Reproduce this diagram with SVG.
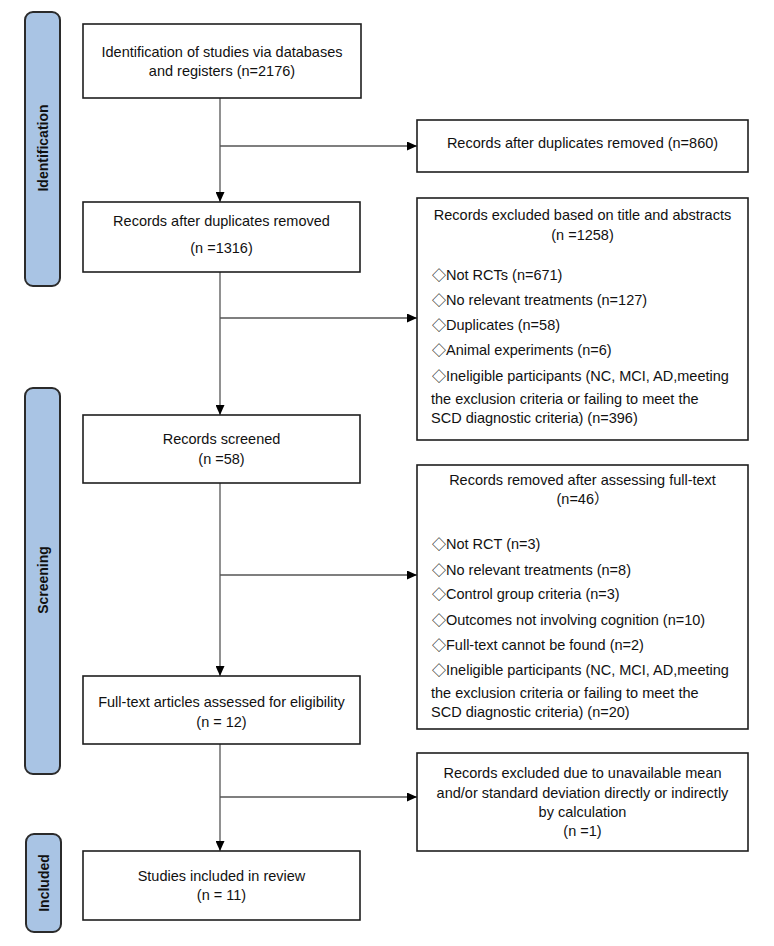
<svg xmlns="http://www.w3.org/2000/svg" width="774" height="946" viewBox="0 0 774 946">
<style>
.bg{fill:#ffffff}
.bar{fill:#a9c4e4;stroke:#2b2b2b;stroke-width:2}
.box{fill:#ffffff;stroke:#1e1e1e;stroke-width:1.6}
.lbl{font-family:"Liberation Sans","DejaVu Sans","Noto Sans CJK SC",sans-serif;font-size:14.5px;fill:#111}
.c{text-anchor:middle}
.dm{font-family:"Noto Sans CJK SC","DejaVu Sans",sans-serif;font-size:14px}
.side{font-family:"Liberation Sans","DejaVu Sans",sans-serif;font-size:14px;font-weight:bold;fill:#111;text-anchor:middle;dominant-baseline:central}
.conn{fill:none;stroke:#555;stroke-width:1.3}
</style>
<defs>
<marker id="arr" markerUnits="userSpaceOnUse" markerWidth="10" markerHeight="9" refX="10" refY="4.5" orient="auto">
<path d="M0,0 L10,4.5 L0,9 z" fill="#000"/>
</marker>
</defs>
<rect class="bg" x="0" y="0" width="774" height="946"/>

<g id="phase-identification">
<rect class="bar" x="25" y="12" width="35" height="274" rx="8"/>
<text class="side" transform="translate(43,148) rotate(-90)">Identification</text>
</g>
<g id="phase-screening">
<rect class="bar" x="25" y="388" width="35" height="386" rx="8"/>
<text class="side" transform="translate(43,580) rotate(-90)">Screening</text>
</g>
<g id="phase-included">
<rect class="bar" x="26" y="834" width="35" height="98" rx="8"/>
<text class="side" transform="translate(44,883) rotate(-90)">Included</text>
</g>

<g id="connectors">
<path class="conn" d="M220,98 V202" marker-end="url(#arr)"/>
<path class="conn" d="M220,146 H417" marker-end="url(#arr)"/>
<path class="conn" d="M220,272 V415" marker-end="url(#arr)"/>
<path class="conn" d="M220,318 H417" marker-end="url(#arr)"/>
<path class="conn" d="M220,483 V676" marker-end="url(#arr)"/>
<path class="conn" d="M220,575 H417" marker-end="url(#arr)"/>
<path class="conn" d="M220,744 V851" marker-end="url(#arr)"/>
<path class="conn" d="M220,797 H417" marker-end="url(#arr)"/>
</g>

<g id="n-identification">
<rect class="box" x="83" y="24" width="278" height="74"/>
<text class="lbl c" x="222" y="57">Identification of studies via databases</text>
<text class="lbl c" x="222" y="76">and registers (n=2176)</text>
</g>

<g id="n-dup-removed-860">
<rect class="box" x="417" y="120" width="331" height="52"/>
<text class="lbl c" x="582.5" y="148">Records after duplicates removed (n=860)</text>
</g>

<g id="n-after-dup">
<rect class="box" x="83" y="202" width="277" height="70"/>
<text class="lbl c" x="221.5" y="226">Records after duplicates removed</text>
<text class="lbl c" x="221.5" y="253">(n =1316)</text>
</g>

<g id="n-excluded-title">
<rect class="box" x="417" y="198" width="331" height="242"/>
<text class="lbl c" x="582.5" y="220">Records excluded based on title and abstracts</text>
<text class="lbl c" x="582.5" y="240">(n =1258)</text>
<text class="lbl" x="432" y="280"><tspan class="dm">◇</tspan>Not RCTs (n=671)</text>
<text class="lbl" x="432" y="305"><tspan class="dm">◇</tspan>No relevant treatments (n=127)</text>
<text class="lbl" x="432" y="330"><tspan class="dm">◇</tspan>Duplicates (n=58)</text>
<text class="lbl" x="432" y="355"><tspan class="dm">◇</tspan>Animal experiments (n=6)</text>
<text class="lbl" x="432" y="381"><tspan class="dm">◇</tspan>Ineligible participants (NC, MCI, AD,meeting</text>
<text class="lbl" x="431" y="404">the exclusion criteria or failing to meet the</text>
<text class="lbl" x="431" y="423">SCD diagnostic criteria) (n=396)</text>
</g>

<g id="n-screened">
<rect class="box" x="83" y="415" width="277" height="68"/>
<text class="lbl c" x="221.5" y="444">Records screened</text>
<text class="lbl c" x="221.5" y="464">(n =58)</text>
</g>

<g id="n-removed-fulltext">
<rect class="box" x="417" y="465" width="331" height="264"/>
<text class="lbl c" x="582.5" y="485">Records removed after assessing full-text</text>
<text class="lbl c" x="582.5" y="504">(n=46）</text>
<text class="lbl" x="432" y="549"><tspan class="dm">◇</tspan>Not RCT (n=3)</text>
<text class="lbl" x="432" y="575"><tspan class="dm">◇</tspan>No relevant treatments (n=8)</text>
<text class="lbl" x="432" y="599"><tspan class="dm">◇</tspan>Control group criteria (n=3)</text>
<text class="lbl" x="432" y="625"><tspan class="dm">◇</tspan>Outcomes not involving cognition (n=10)</text>
<text class="lbl" x="432" y="650"><tspan class="dm">◇</tspan>Full-text cannot be found (n=2)</text>
<text class="lbl" x="432" y="675"><tspan class="dm">◇</tspan>Ineligible participants (NC, MCI, AD,meeting</text>
<text class="lbl" x="431" y="698">the exclusion criteria or failing to meet the</text>
<text class="lbl" x="431" y="717">SCD diagnostic criteria) (n=20)</text>
</g>

<g id="n-fulltext-assessed">
<rect class="box" x="83" y="676" width="277" height="68"/>
<text class="lbl c" x="221.5" y="707">Full-text articles assessed for eligibility</text>
<text class="lbl c" x="221.5" y="727">(n = 12)</text>
</g>

<g id="n-excluded-mean">
<rect class="box" x="417" y="753" width="331" height="98"/>
<text class="lbl c" x="582.5" y="778">Records excluded due to unavailable mean</text>
<text class="lbl c" x="582.5" y="798">and/or standard deviation directly or indirectly</text>
<text class="lbl c" x="582.5" y="817">by calculation</text>
<text class="lbl c" x="582.5" y="836">(n =1)</text>
</g>

<g id="n-included">
<rect class="box" x="83" y="851" width="277" height="69"/>
<text class="lbl c" x="221.5" y="881">Studies included in review</text>
<text class="lbl c" x="221.5" y="900">(n = 11)</text>
</g>
</svg>
